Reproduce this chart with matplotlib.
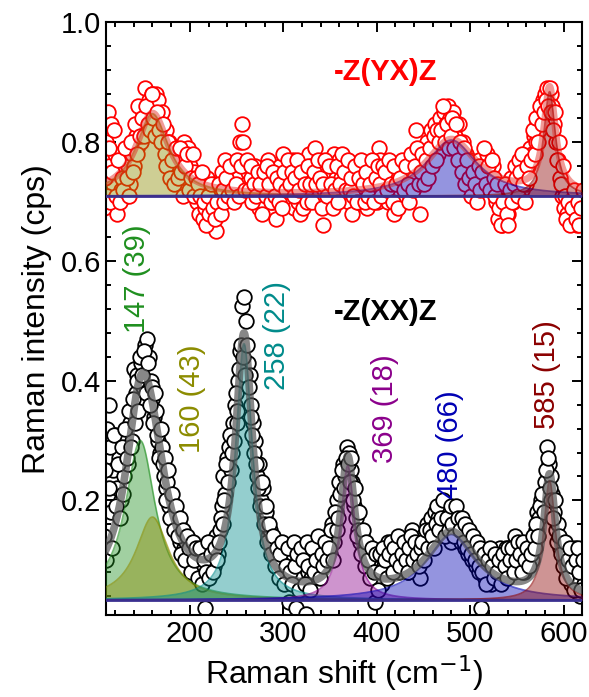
# %%
import numpy as np
import matplotlib.pyplot as plt

plt.rcParams["font.family"] = ["Liberation Sans", "DejaVu Sans"]

# %% measured spectra, 1 cm-1 step, typed as even and odd channels
shift_even = np.arange(108, 623, 2)
shift_odd = np.arange(109, 622, 2)

int_xx_even = [
    0.14, 0.10, 0.30, 0.36, 0.18, 0.25, 0.31, 0.22, 0.27, 0.20,
    0.29, 0.24, 0.30, 0.26, 0.33, 0.30, 0.42, 0.38, 0.41, 0.36,
    0.43, 0.39, 0.46, 0.47, 0.44, 0.40, 0.37, 0.34, 0.35, 0.30,
    0.28, 0.29, 0.24, 0.22, 0.23, 0.19, 0.20, 0.17, 0.18, 0.15,
    0.16, 0.13, 0.14, 0.12, 0.13, 0.10, 0.12, 0.09, 0.11, 0.08,
    0.10, 0.07, 0.11, 0.09, 0.02, 0.08, 0.12, 0.10, 0.13, 0.09,
    0.14, 0.11, 0.15, 0.19, 0.24, 0.21, 0.27, 0.29, 0.25, 0.33,
    0.36, 0.33, 0.40, 0.45, 0.526, 0.54, 0.50, 0.43, 0.41, 0.36,
    0.33, 0.30, 0.24, 0.26, 0.20, 0.22, 0.17, 0.18, 0.14, 0.15,
    0.12, 0.13, 0.10, 0.12, 0.09, 0.11, 0.08, 0.10, 0.07, 0.03,
    0.09, 0.11, 0.08, 0.02, 0.10, 0.07, 0.12, 0.09, 0.01, 0.08,
    0.11, 0.07, 0.10, 0.12, 0.08, 0.11, 0.09, 0.13, 0.10, 0.12,
    0.14, 0.11, 0.16, 0.13, 0.18, 0.20, 0.23, 0.21, 0.26, 0.24,
    0.29, 0.28, 0.25, 0.23, 0.19, 0.17, 0.15, 0.13, 0.14, 0.11,
    0.12, 0.09, 0.11, 0.08, 0.10, 0.03, 0.09, 0.07, 0.10, 0.06,
    0.09, 0.11, 0.13, 0.10, 0.12, 0.09, 0.13, 0.11, 0.08, 0.12,
    0.10, 0.09, 0.12, 0.08, 0.11, 0.15, 0.12, 0.09, 0.13, 0.07,
    0.11, 0.14, 0.12, 0.16, 0.13, 0.17, 0.15, 0.18, 0.14, 0.17,
    0.19, 0.16, 0.18, 0.15, 0.19, 0.17, 0.13, 0.18, 0.16, 0.14,
    0.17, 0.13, 0.15, 0.12, 0.14, 0.11, 0.13, 0.10, 0.12, 0.09,
    0.11, 0.08, 0.02, 0.10, 0.07, 0.11, 0.09, 0.06, 0.10, 0.08,
    0.11, 0.09, 0.12, 0.07, 0.10, 0.12, 0.09, 0.11, 0.08, 0.10,
    0.14, 0.11, 0.09, 0.12, 0.10, 0.08, 0.11, 0.09, 0.12, 0.10,
    0.13, 0.15, 0.18, 0.17, 0.20, 0.19, 0.23, 0.29, 0.26, 0.24,
    0.21, 0.18, 0.15, 0.16, 0.12, 0.13, 0.10, 0.12, 0.08, 0.11,
    0.06, 0.10, 0.12, 0.07, 0.11, 0.04, 0.09, 0.06,
]

int_xx_odd = [
    0.25, 0.32, 0.22, 0.29, 0.12, 0.31, 0.19, 0.26, 0.17, 0.29,
    0.21, 0.32, 0.27, 0.35, 0.29, 0.37, 0.33, 0.40, 0.35, 0.44,
    0.41, 0.45, 0.38, 0.43, 0.36, 0.39, 0.33, 0.38, 0.31, 0.27,
    0.32, 0.26, 0.27, 0.20, 0.25, 0.17, 0.21, 0.15, 0.19, 0.14,
    0.17, 0.11, 0.15, 0.10, 0.14, 0.12, 0.08, 0.13, 0.10, 0.12,
    0.07, 0.12, 0.06, 0.10, 0.08, 0.13, 0.07, 0.11, 0.08, 0.12,
    0.10, 0.13, 0.17, 0.16, 0.20, 0.26, 0.23, 0.31, 0.28, 0.30,
    0.38, 0.35, 0.42, 0.46, 0.44, 0.41, 0.46, 0.39, 0.34, 0.31,
    0.28, 0.26, 0.22, 0.19, 0.23, 0.16, 0.19, 0.13, 0.16, 0.11,
    0.14, 0.09, 0.12, 0.07, 0.11, 0.13, 0.06, 0.09, 0.12, 0.08,
    0.06, 0.13, 0.09, 0.11, 0.05, 0.12, 0.10, 0.06, 0.13, 0.09,
    0.05, 0.12, 0.08, 0.10, 0.14, 0.07, 0.11, 0.09, 0.13, 0.10,
    0.12, 0.15, 0.10, 0.18, 0.15, 0.17, 0.21, 0.25, 0.22, 0.27,
    0.26, 0.23, 0.27, 0.20, 0.22, 0.14, 0.18, 0.11, 0.15, 0.09,
    0.13, 0.10, 0.07, 0.12, 0.08, 0.11, 0.05, 0.11, 0.08, 0.12,
    0.10, 0.07, 0.11, 0.13, 0.08, 0.12, 0.10, 0.14, 0.09, 0.11,
    0.13, 0.10, 0.08, 0.12, 0.14, 0.10, 0.13, 0.11, 0.09, 0.12,
    0.13, 0.10, 0.15, 0.12, 0.15, 0.14, 0.12, 0.16, 0.19, 0.15,
    0.17, 0.20, 0.14, 0.17, 0.15, 0.19, 0.16, 0.14, 0.19, 0.17,
    0.15, 0.17, 0.13, 0.16, 0.12, 0.15, 0.11, 0.14, 0.10, 0.13,
    0.09, 0.12, 0.08, 0.11, 0.06, 0.10, 0.12, 0.09, 0.07, 0.11,
    0.08, 0.10, 0.06, 0.11, 0.09, 0.07, 0.12, 0.10, 0.12, 0.08,
    0.10, 0.13, 0.11, 0.08, 0.13, 0.10, 0.12, 0.09, 0.11, 0.14,
    0.12, 0.16, 0.14, 0.19, 0.21, 0.18, 0.25, 0.27, 0.22, 0.20,
    0.17, 0.20, 0.13, 0.14, 0.11, 0.09, 0.13, 0.07, 0.10, 0.12,
    0.09, 0.05, 0.10, 0.12, 0.08, 0.05, 0.10,
]

int_yx_even = [
    0.69, 0.80, 0.85, 0.76, 0.83, 0.73, 0.78, 0.68, 0.75, 0.72,
    0.77, 0.74, 0.71, 0.76, 0.73, 0.78, 0.76, 0.81, 0.79, 0.83,
    0.80, 0.85, 0.89, 0.84, 0.87, 0.85, 0.88, 0.86, 0.88, 0.87,
    0.84, 0.85, 0.81, 0.82, 0.79, 0.80, 0.77, 0.79, 0.75, 0.78,
    0.76, 0.73, 0.77, 0.80, 0.74, 0.79, 0.76, 0.72, 0.75, 0.73,
    0.70, 0.68, 0.72, 0.67, 0.69, 0.74, 0.71, 0.66, 0.70, 0.73,
    0.65, 0.68, 0.71, 0.75, 0.73, 0.77, 0.74, 0.71, 0.76, 0.73,
    0.75, 0.72, 0.74, 0.80, 0.83, 0.76, 0.73, 0.75, 0.71, 0.74,
    0.70, 0.76, 0.72, 0.69, 0.73, 0.70, 0.74, 0.72, 0.77, 0.75,
    0.70, 0.73, 0.67, 0.71, 0.76, 0.73, 0.78, 0.74, 0.71, 0.75,
    0.72, 0.77, 0.69, 0.73, 0.70, 0.68, 0.74, 0.71, 0.75, 0.72,
    0.78, 0.76, 0.73, 0.79, 0.75, 0.71, 0.74, 0.66, 0.72, 0.76,
    0.73, 0.70, 0.75, 0.78, 0.74, 0.72, 0.77, 0.74, 0.71, 0.76,
    0.73, 0.70, 0.75, 0.68, 0.72, 0.74, 0.70, 0.73, 0.71, 0.75,
    0.72, 0.69, 0.74, 0.72, 0.76, 0.73, 0.70, 0.79, 0.77, 0.74,
    0.71, 0.73, 0.70, 0.75, 0.72, 0.68, 0.74, 0.71, 0.76, 0.73,
    0.70, 0.74, 0.77, 0.72, 0.75, 0.78, 0.74, 0.82, 0.77, 0.68,
    0.75, 0.79, 0.76, 0.80, 0.77, 0.82, 0.79, 0.83, 0.80, 0.78,
    0.84, 0.81, 0.85, 0.83, 0.86, 0.84, 0.82, 0.85, 0.81, 0.79,
    0.83, 0.78, 0.80, 0.76, 0.78, 0.75, 0.77, 0.73, 0.76, 0.72,
    0.74, 0.77, 0.73, 0.76, 0.74, 0.78, 0.75, 0.72, 0.76, 0.73,
    0.70, 0.67, 0.71, 0.66, 0.69, 0.72, 0.68, 0.71, 0.74, 0.70,
    0.76, 0.73, 0.77, 0.74, 0.72, 0.75, 0.73, 0.76, 0.79, 0.78,
    0.81, 0.80, 0.83, 0.82, 0.85, 0.87, 0.88, 0.89, 0.87, 0.88,
    0.86, 0.83, 0.80, 0.77, 0.74, 0.71, 0.69, 0.72, 0.68, 0.70,
    0.67, 0.71, 0.69, 0.66, 0.70, 0.68, 0.71, 0.69,
]

int_yx_odd = [
    0.74, 0.71, 0.79, 0.70, 0.75, 0.82, 0.71, 0.77, 0.70, 0.74,
    0.72, 0.79, 0.74, 0.71, 0.80, 0.75, 0.83, 0.78, 0.86, 0.81,
    0.84, 0.81, 0.86, 0.83, 0.82, 0.88, 0.84, 0.81, 0.85, 0.82,
    0.80, 0.83, 0.78, 0.76, 0.80, 0.74, 0.77, 0.73, 0.79, 0.74,
    0.79, 0.75, 0.71, 0.76, 0.78, 0.72, 0.74, 0.78, 0.71, 0.74,
    0.73, 0.71, 0.75, 0.70, 0.66, 0.71, 0.68, 0.73, 0.69, 0.67,
    0.70, 0.73, 0.68, 0.72, 0.70, 0.74, 0.71, 0.76, 0.72, 0.70,
    0.73, 0.77, 0.71, 0.76, 0.80, 0.72, 0.77, 0.72, 0.76, 0.70,
    0.73, 0.71, 0.75, 0.73, 0.68, 0.75, 0.71, 0.76, 0.73, 0.70,
    0.75, 0.71, 0.74, 0.70, 0.73, 0.69, 0.75, 0.72, 0.77, 0.73,
    0.75, 0.71, 0.74, 0.77, 0.72, 0.75, 0.69, 0.73, 0.70, 0.76,
    0.73, 0.70, 0.75, 0.73, 0.77, 0.74, 0.69, 0.73, 0.77, 0.71,
    0.76, 0.73, 0.69, 0.72, 0.76, 0.70, 0.73, 0.78, 0.75, 0.72,
    0.77, 0.72, 0.74, 0.71, 0.76, 0.70, 0.74, 0.77, 0.73, 0.70,
    0.75, 0.71, 0.73, 0.77, 0.70, 0.74, 0.76, 0.73, 0.71, 0.76,
    0.75, 0.72, 0.77, 0.73, 0.70, 0.76, 0.73, 0.69, 0.74, 0.77,
    0.72, 0.76, 0.73, 0.70, 0.78, 0.72, 0.76, 0.79, 0.73, 0.75,
    0.78, 0.73, 0.77, 0.74, 0.79, 0.76, 0.81, 0.77, 0.82, 0.80,
    0.82, 0.86, 0.80, 0.83, 0.79, 0.81, 0.84, 0.79, 0.83, 0.77,
    0.80, 0.75, 0.79, 0.73, 0.77, 0.74, 0.71, 0.75, 0.73, 0.70,
    0.76, 0.72, 0.75, 0.79, 0.73, 0.76, 0.72, 0.77, 0.74, 0.71,
    0.73, 0.69, 0.66, 0.70, 0.73, 0.68, 0.66, 0.72, 0.70, 0.73,
    0.74, 0.71, 0.75, 0.78, 0.73, 0.70, 0.76, 0.74, 0.77, 0.82,
    0.78, 0.84, 0.80, 0.86, 0.83, 0.85, 0.87, 0.86, 0.89, 0.85,
    0.82, 0.85, 0.77, 0.80, 0.73, 0.76, 0.71, 0.67, 0.70, 0.66,
    0.69, 0.72, 0.67, 0.70, 0.66, 0.69, 0.72,
]

# %% fitted Lorentzian components: centre, FWHM, height above baseline
xx_center = [147, 160, 258, 369, 480, 585]
xx_fwhm = [39, 43, 22, 18, 66, 15]
xx_height = [0.267, 0.139, 0.429, 0.225, 0.110, 0.200]
xx_base = 0.033

yx_center = [160, 480, 585]
yx_fwhm = [43, 66, 15]
yx_height = [0.138, 0.094, 0.175]
yx_base = 0.709

colors = {147: "#1f8f1f", 160: "#8c8c00", 258: "#008b8b",
          369: "#8b008b", 480: "#0000b4", 585: "#8b0000"}


def lorentz(x, c, w, h):
    return h / (1 + ((x - c) / (w / 2)) ** 2)


# %%
fig = plt.figure(figsize=(5.89, 6.97), dpi=100)
ax = fig.add_axes([0.1795, 0.1176, 0.8091, 0.8504])

xs = np.linspace(108, 622, 1200)

for sx, yx, xx in [(shift_even, int_yx_even, int_xx_even),
                   (shift_odd, int_yx_odd, int_xx_odd)]:
    ax.plot(sx, yx, "o", ms=10.5, mfc="white", mec="red", mew=1.3, zorder=2)
    ax.plot(sx, xx, "o", ms=10.5, mfc="white", mec="black", mew=1.3, zorder=2)

total = np.full_like(xs, xx_base)
for c, w, h in zip(xx_center, xx_fwhm, xx_height):
    comp = lorentz(xs, c, w, h)
    total += comp
    ax.fill_between(xs, xx_base, xx_base + comp, color=colors[c], alpha=0.42,
                    lw=0, zorder=3)
    ax.plot(xs, xx_base + comp, color=colors[c], lw=1.2, alpha=0.6, zorder=3)
ax.plot(xs, total, color="#555555", lw=5.5, alpha=0.7, zorder=4,
        solid_capstyle="round")

total = np.full_like(xs, yx_base)
for c, w, h in zip(yx_center, yx_fwhm, yx_height):
    comp = lorentz(xs, c, w, h)
    total += comp
    ax.fill_between(xs, yx_base, yx_base + comp, color=colors[c], alpha=0.42,
                    lw=0, zorder=3)
    ax.plot(xs, yx_base + comp, color=colors[c], lw=1.2, alpha=0.6, zorder=3)
ax.plot(xs, total, color="#e0201a", lw=5, alpha=0.45, zorder=4)

ax.axhline(xx_base, color="#3a2f8f", lw=2, zorder=4)
ax.axhline(yx_base, color="#3a2f8f", lw=2, zorder=4)

# peak labels
labels = [(143.5, 0.480, "147 (39)", 147), (202.3, 0.279, "160 (43)", 160),
          (293.3, 0.384, "258 (22)", 258), (408.9, 0.262, "369 (18)", 369),
          (478.4, 0.203, "480 (66)", 480), (582.3, 0.320, "585 (15)", 585)]
for x, y, s, c in labels:
    ax.text(x, y, s, rotation=90, ha="center", va="bottom", fontsize=21,
            color=colors[c], zorder=5)

ax.text(465, 0.917, "-Z(YX)Z", color="red", fontsize=21, fontweight="bold",
        ha="right", va="center")
ax.text(465, 0.515, "-Z(XX)Z", color="black", fontsize=21, fontweight="bold",
        ha="right", va="center")

ax.set_xlim(110, 620)
ax.set_ylim(0.008, 1.0)
ax.set_xticks([200, 300, 400, 500, 600])
ax.set_xticks(np.arange(120, 620, 20), minor=True)
ax.set_yticks([0.2, 0.4, 0.6, 0.8, 1.0])
ax.set_yticks(np.arange(0.04, 1.0, 0.04), minor=True)
ax.tick_params(which="both", direction="in", top=True, right=True,
               labelsize=21, width=1.4)
ax.tick_params(which="major", length=7)
ax.tick_params(which="minor", length=3.6)
for sp in ax.spines.values():
    sp.set_linewidth(1.5)

ax.set_xlabel("Raman shift (cm$^{-1}$)", fontsize=23, labelpad=4)
ax.set_ylabel("Raman intensity (cps)", fontsize=23, labelpad=6)

fig.savefig("out.png", dpi=100)
